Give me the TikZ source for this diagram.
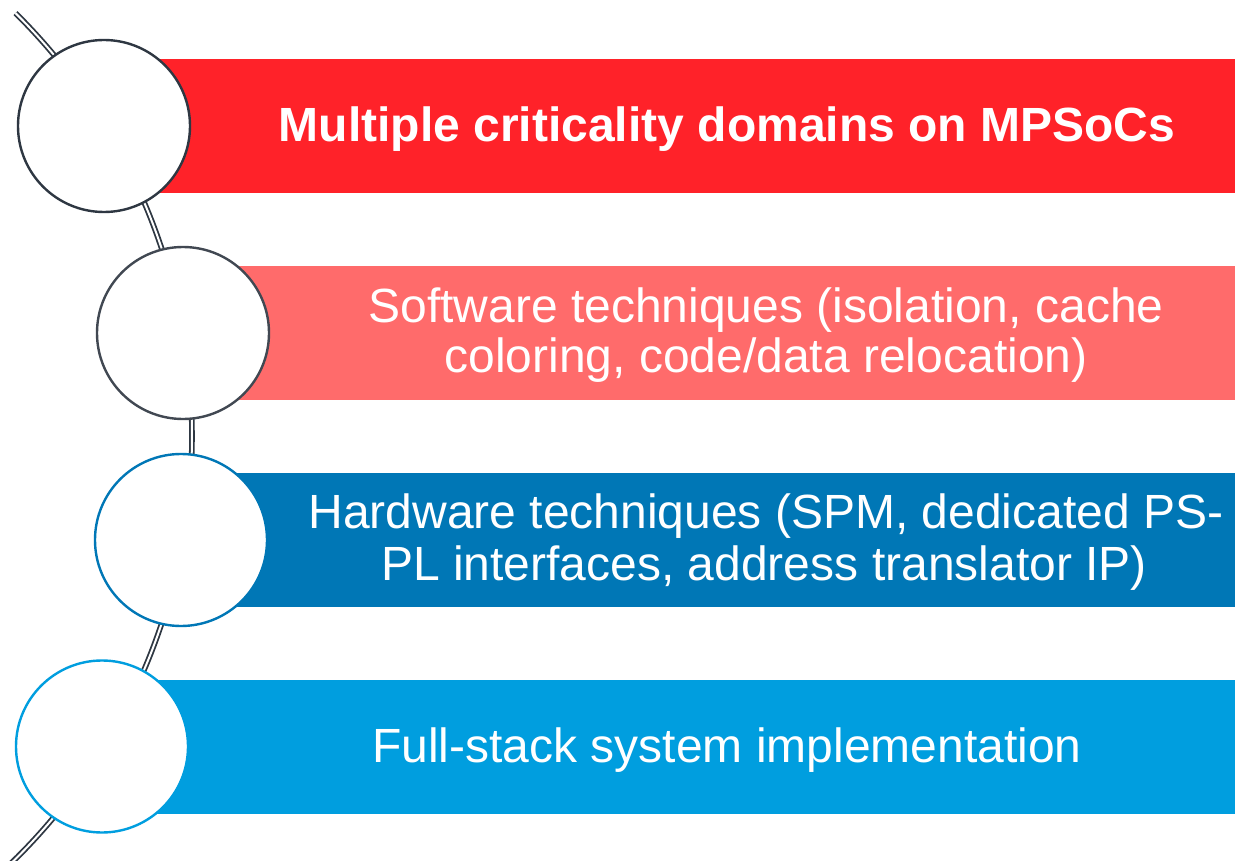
\documentclass[tikz,border=0pt]{standalone}
\usepackage{fontspec}
\setmainfont{Liberation Sans}
\usetikzlibrary{calc}
\definecolor{redA}{HTML}{FF2229}
\definecolor{redB}{HTML}{FF6B6B}
\definecolor{blueA}{HTML}{0077B6}
\definecolor{blueB}{HTML}{009EDF}
\definecolor{ink}{HTML}{2E3742}
\definecolor{inkB}{HTML}{414852}
\begin{document}
\begin{tikzpicture}[x=1pt,y=1pt,
  bar/.style={rectangle, inner sep=0, minimum height=134, anchor=west, fill=#1},
  ring/.style={circle, draw=#1, fill=white, line width=2.4, minimum size=172, inner sep=0},
  label/.style={anchor=base, text=white, inner sep=0, font=\fontsize{48}{52}\selectfont},
  rail/.style={draw=ink, line width=1.8, double=white, double distance=2}]
\clip (0,0) rectangle (1235,-861);
\fill[white] (0,0) rectangle (1235,-861);

% centre of the arc that carries the four rings
\coordinate (hub) at (-403,-436);

% coloured bands
\node[bar=redA,  minimum width=1131] (b1) at (104,-126) {};
\node[bar=redB,  minimum width=1052] (b2) at (183,-333) {};
\node[bar=blueA, minimum width=1054] (b3) at (181,-540) {};
\node[bar=blueB, minimum width=1133] (b4) at (102,-746.5) {};

% double rail along the arc
\coordinate (railtop) at ($(hub)+(45.3:595)$);
\draw[rail] (railtop) arc[start angle=45.3, end angle=-46, radius=595];

% rings sitting on the rail
\node[ring=ink]   (c1) at (104,-126) {};
\node[ring=inkB]  (c2) at (183,-333) {};
\node[ring=blueA] (c3) at (181,-540) {};
\node[ring=blueB] (c4) at (102,-746.5) {};

% band texts
\node[label, font=\fontsize{48}{52}\selectfont\bfseries] (t1) at (727,-142) {Multiple criticality domains on MPSoCs};
\node[label] (t2a) at (766,-323) {Software techniques (isolation, cache};
\node[label] (t2b) at (766,-372) {coloring, code/data relocation)};
\node[label] (t3a) at (766,-528) {Hardware techniques (SPM, dedicated PS-};
\node[label] (t3b) at (764,-580) {PL interfaces, address translator IP)};
\node[label] (t4) at (727,-762) {Full-stack system implementation};
\end{tikzpicture}
\end{document}
